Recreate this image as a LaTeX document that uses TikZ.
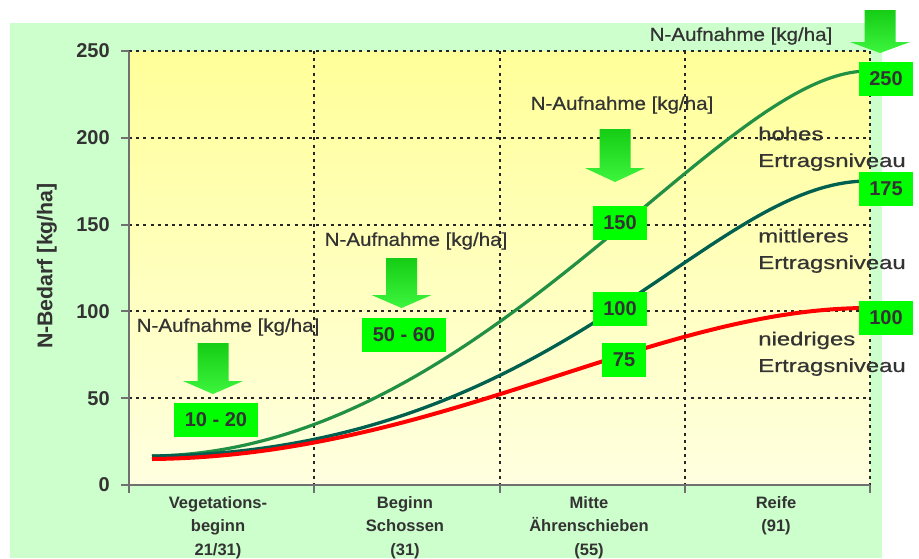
\documentclass[tikz,border=0pt]{standalone}
\usepackage{fontspec}
\setmainfont{Liberation Sans}
\newfontfamily\halbfett[FakeBold=0.6]{Liberation Sans}

\definecolor{hgruen}{HTML}{CCFFCC}
\definecolor{gelboben}{HTML}{FFFF99}
\definecolor{gelbunten}{HTML}{FFFFE0}
\definecolor{textgrau}{HTML}{333333}
\definecolor{achsgrau}{HTML}{707070}
\definecolor{kurvehoch}{RGB}{34,144,68}
\definecolor{kurvemittel}{RGB}{0,96,80}
\definecolor{wertgruen}{HTML}{00FF00}
\definecolor{pfeiloben}{RGB}{20,205,20}
\definecolor{pfeilunten}{RGB}{60,245,60}

\newcommand{\breit}[1]{\scalebox{1.28}[1]{#1}}
\newcommand{\pfeilrunter}[4]{%
  \shade[top color=pfeiloben, bottom color=pfeilunten]
    (#1-15.5,#2) -- (#1+15.5,#2) -- (#1+15.5,#3) -- (#1+30,#3) -- (#1,#4)
    -- (#1-30,#3) -- (#1-15.5,#3) -- cycle;}

\begin{document}
\begin{tikzpicture}[x=0.75pt,y=-0.75pt,
    gitter/.style={line width=1.5pt, dash pattern=on 2.2pt off 3.2pt, color=black!85},
    wert/.style={fill=wertgruen, text=textgrau, font=\bfseries\fontsize{15}{16}\selectfont,
      minimum height=26pt, inner xsep=8pt, inner ysep=0pt},
    aufnahme/.style={text=textgrau, font=\halbfett\fontsize{14}{16}\selectfont, inner sep=0pt},
    niveau/.style={text=textgrau, font=\halbfett\fontsize{14}{20}\selectfont, align=left,
      anchor=north west, inner sep=0pt},
    stadium/.style={text=textgrau, font=\bfseries\fontsize{12.4}{17.6}\selectfont,
      align=center, anchor=north, inner sep=0pt},
    ytick/.style={text=textgrau, font=\bfseries\fontsize{15}{15}\selectfont,
      anchor=east, inner sep=0pt}]
  \useasboundingbox (0,0) rectangle (919,558);
  \fill[white] (0,0) rectangle (919,558);
  \fill[hgruen] (10,23) rectangle (882,558);
  \shade[top color=gelboben, bottom color=gelbunten] (129,51) rectangle (870,485);

  \foreach \yy in {51,137.8,224.6,311.4,398.2}
    \draw[gitter] (129,\yy) -- (870,\yy);
  \foreach \xx in {314.25,499.5,684.75,870}
    \draw[gitter] (\xx,51) -- (\xx,485);

  \draw[achsgrau, line width=1.5pt] (129,51) -- (129,485) -- (870,485);
  \foreach \yy in {51,137.8,224.6,311.4,398.2,485}
    \draw[achsgrau, line width=1.5pt] (121,\yy) -- (129,\yy);
  \foreach \xx in {129,314.25,499.5,684.75,870}
    \draw[achsgrau, line width=1.5pt] (\xx,485) -- (\xx,493);

  \foreach \v/\yy in {0/485,50/398.2,100/311.4,150/224.6,200/137.8,250/51}
    \node[ytick] (t\v) at (110,\yy) {\v};
  \node[rotate=90, text=textgrau, font=\bfseries\fontsize{16}{16}\selectfont]
    (bedarf) at (47,266) {N-Bedarf [kg/ha]};

  \node[stadium] (s1) at (218,496) {Vegetations-\\beginn\\21/31)};
  \node[stadium] (s2) at (405,496) {Beginn\\Schossen\\(31)};
  \node[stadium] (s3) at (589,496) {Mitte\\Ährenschieben\\(55)};
  \node[stadium] (s4) at (776,496) {Reife\\(91)};

  \draw[kurvehoch, line width=2.4pt] (152,456) .. controls (483,452) and (718,71) .. (868,71);
  \draw[kurvemittel, line width=2.5pt] (152,456) .. controls (560,453) and (706,181) .. (868,181);
  \draw[red, line width=3pt] (152,459) .. controls (439,456) and (653,308) .. (868,308);

  \node[niveau] (hoch) at (758,126.5) {\breit{hohes}\\\breit{Ertragsniveau}};
  \node[niveau] (mittel) at (758,228.5) {\breit{mittleres}\\\breit{Ertragsniveau}};
  \node[niveau] (niedrig) at (758,331.5) {\breit{niedriges}\\\breit{Ertragsniveau}};

  \node[aufnahme] (a1) at (741,36) {\scalebox{1.1}[1]{N-Aufnahme [kg/ha]}};
  \node[aufnahme] (a2) at (622,105) {\scalebox{1.1}[1]{N-Aufnahme [kg/ha]}};
  \node[aufnahme] (a3) at (416,241) {\scalebox{1.1}[1]{N-Aufnahme [kg/ha]}};
  \node[aufnahme] (a4) at (228,327) {\scalebox{1.1}[1]{N-Aufnahme [kg/ha]}};

  \pfeilrunter{880}{10}{42}{53}
  \pfeilrunter{615}{129}{168}{182}
  \pfeilrunter{401.5}{258}{295}{308}
  \pfeilrunter{213}{343}{381}{394}

  \node[wert] (w1) at (886,79) {250};
  \node[wert] (w2) at (886,189) {175};
  \node[wert] (w3) at (886,318) {100};
  \node[wert] (w4) at (620,223) {150};
  \node[wert] (w5) at (620,309) {100};
  \node[wert] (w6) at (624,360) {75};
  \node[wert] (w7) at (404,335) {50 - 60};
  \node[wert] (w8) at (216,420) {10 - 20};
\end{tikzpicture}
\end{document}
